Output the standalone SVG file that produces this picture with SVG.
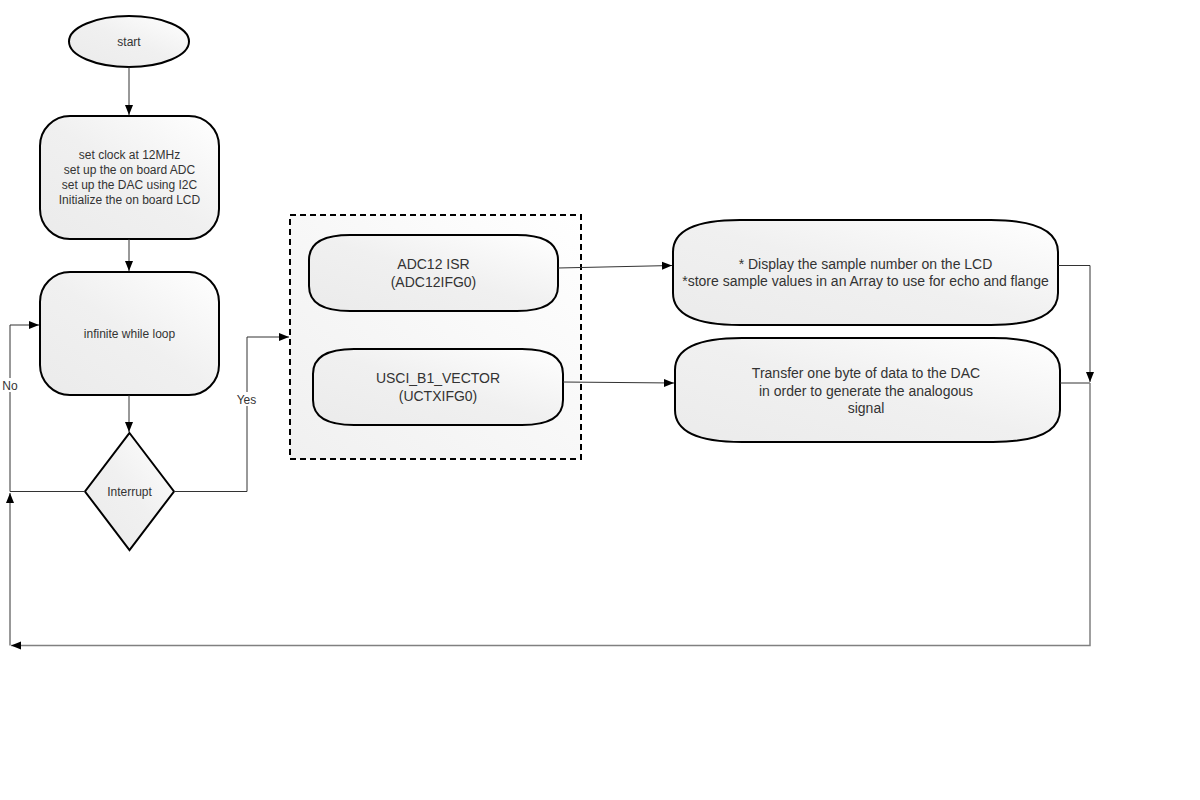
<svg xmlns="http://www.w3.org/2000/svg" width="1200" height="800" viewBox="0 0 1200 800">
<defs>
<linearGradient id="g" x1="1" y1="0" x2="0" y2="1">
<stop offset="0" stop-color="#ffffff"/>
<stop offset="0.5" stop-color="#f0f0f0"/>
<stop offset="1" stop-color="#ebebeb"/>
</linearGradient>
<linearGradient id="gc" x1="1" y1="0" x2="0" y2="1">
<stop offset="0" stop-color="#ffffff"/>
<stop offset="1" stop-color="#f0f0f0"/>
</linearGradient>
<marker id="a" viewBox="0 0 10 10" refX="10" refY="5" markerWidth="10" markerHeight="10" markerUnits="userSpaceOnUse" orient="auto">
<path d="M0,1 L10,5 L0,9 z" fill="#000"/>
</marker>
</defs>
<style>
.n{fill:url(#g);stroke:#000;stroke-width:2}
.t{font-family:"Liberation Sans",Arial,sans-serif;fill:#333;text-anchor:middle}
.c{fill:none;stroke:#333;stroke-width:1}
.g{fill:none;stroke:#808080;stroke-width:1.5}
</style>
<rect width="1200" height="800" fill="#fff"/>
<g id="container">
<rect x="290" y="215" width="291" height="244" fill="url(#gc)" stroke="#000" stroke-width="2" stroke-dasharray="6,4"/>
</g>
<g id="start">
<ellipse class="n" cx="129" cy="41.5" rx="60" ry="25.5"/>
<text class="t" x="129" y="46" font-size="12">start</text>
</g>
<g id="init">
<rect class="n" x="40" y="116" width="179" height="123" rx="30" ry="30"/>
<text class="t" font-size="12"><tspan x="129.5" y="159">set clock at 12MHz</tspan><tspan x="129.5" y="174">set up the on board ADC</tspan><tspan x="129.5" y="189">set up the DAC using I2C</tspan><tspan x="129.5" y="204">Initialize the on board LCD</tspan></text>
</g>
<g id="loop">
<rect class="n" x="40" y="272" width="179" height="123" rx="30" ry="30"/>
<text class="t" x="129.5" y="338" font-size="12">infinite while loop</text>
</g>
<g id="interrupt">
<path class="n" d="M129.5,433 L174,491.5 L129.5,550 L85,491.5 Z"/>
<text class="t" x="129.5" y="496" font-size="12">Interrupt</text>
</g>
<g id="adc">
<path class="n" d="M309,260 Q309,235 350,235 L517,235 Q558,235 558,260 L558,286 Q558,311 517,311 L350,311 Q309,311 309,286 Z"/>
<text class="t" font-size="14"><tspan x="433.5" y="269">ADC12 ISR</tspan><tspan x="433.5" y="287">(ADC12IFG0)</tspan></text>
</g>
<g id="usci">
<path class="n" d="M313,374 Q313,349 354,349 L522,349 Q563,349 563,374 L563,400 Q563,425 522,425 L354,425 Q313,425 313,400 Z"/>
<text class="t" font-size="14"><tspan x="438" y="383">USCI_B1_VECTOR</tspan><tspan x="438" y="401">(UCTXIFG0)</tspan></text>
</g>
<g id="display">
<path class="n" d="M673,252 Q673,220 740,220 L991,220 Q1058,220 1058,252 L1058,293 Q1058,325 991,325 L740,325 Q673,325 673,293 Z"/>
<text class="t" font-size="14"><tspan x="865.5" y="269">* Display the sample number on the LCD</tspan><tspan x="865.5" y="286">*store sample values in an Array to use for echo and flange</tspan></text>
</g>
<g id="transfer">
<path class="n" d="M675,370 Q675,338 742,338 L993,338 Q1060,338 1060,370 L1060,410 Q1060,442 993,442 L742,442 Q675,442 675,410 Z"/>
<text class="t" font-size="14"><tspan x="866" y="378">Transfer one byte of data to the DAC</tspan><tspan x="866" y="396">in order to generate the analogous</tspan><tspan x="866" y="413">signal</tspan></text>
</g>
<g id="connectors">
<path class="c" d="M129,67 L129,115" marker-end="url(#a)"/>
<path class="c" d="M129,239 L129,271" marker-end="url(#a)"/>
<path class="c" d="M129,395 L129,432" marker-end="url(#a)"/>
<path class="c" d="M85,491.5 L10,491.5 L10,325 L39,325" marker-end="url(#a)"/>
<path class="c" d="M174,491.5 L247,491.5 L247,337 L289,337" marker-end="url(#a)"/>
<path class="c" d="M558,268 L672,265.5" marker-end="url(#a)"/>
<path class="c" d="M563,382 L674,383" marker-end="url(#a)"/>
<path class="c" d="M1058,265.5 L1090,265.5 L1090,382" marker-end="url(#a)"/>
<path class="c" d="M1060,383 L1090,383"/>
<path class="g" d="M1090,383 L1090,645.5 L11,645.5" marker-end="url(#a)"/>
<path class="c" d="M10,645.5 L10,493" marker-end="url(#a)"/>
<rect x="0" y="378" width="19" height="14" fill="#fff"/>
<text x="10" y="389.5" font-size="12" font-family="Liberation Sans,Arial,sans-serif" fill="#333" text-anchor="middle">No</text>
<rect x="235" y="392" width="24" height="14" fill="#fff"/>
<text x="246.5" y="403.5" font-size="12" font-family="Liberation Sans,Arial,sans-serif" fill="#333" text-anchor="middle">Yes</text>
</g>
</svg>
